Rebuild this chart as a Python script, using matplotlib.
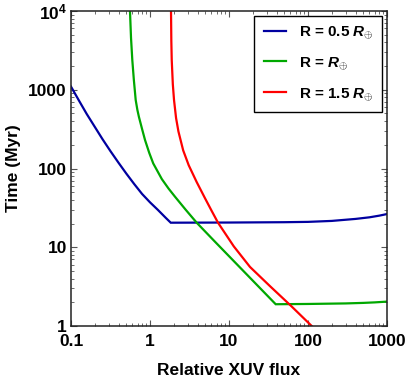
import numpy as np
import matplotlib
matplotlib.use('Agg')
import matplotlib.pyplot as plt
from matplotlib.ticker import FixedLocator, LogLocator, NullFormatter

plt.rcParams['font.family'] = ['Liberation Sans', 'DejaVu Sans']
plt.rcParams['font.weight'] = 'bold'
plt.rcParams['mathtext.fontset'] = 'custom'
plt.rcParams['mathtext.rm'] = 'Liberation Sans:bold'
plt.rcParams['mathtext.bf'] = 'Liberation Sans:bold'
plt.rcParams['mathtext.it'] = 'Liberation Sans:bold:italic'

# R = 0.5 Earth radii
blue_x = [0.1, 0.126, 0.158, 0.2, 0.251, 0.316, 0.398, 0.501, 0.631, 0.794, 1.0, 1.259, 1.585, 1.83,
          10, 50, 100, 200, 400, 600, 800, 1000]
blue_y = [1096, 730, 493, 338, 235, 166, 119, 86.3, 63.5, 47.5, 37.2, 29.8, 23.6, 20.5,
          20.6, 20.8, 21.0, 21.6, 22.9, 24.0, 25.2, 26.4]

# R = 1 Earth radius
green_x = [0.558, 0.575, 0.597, 0.624, 0.659, 0.692, 0.724, 0.80, 0.865, 0.977, 1.099, 1.413, 1.718,
           2.07, 2.818, 3.9, 6.65, 39, 100, 300, 500, 700, 1000]
green_y = [10000, 4571, 2388, 1349, 741, 556, 452, 308, 230, 158.5, 116, 73.3, 55.6,
           43.9, 30.1, 20.5, 11.75, 1.89, 1.905, 1.935, 1.965, 1.995, 2.04]

# R = 1.5 Earth radii
red_x = [1.845, 1.862, 1.884, 1.945, 2.014, 2.138, 2.291, 2.63, 3.09, 3.89, 4.97, 6.03, 7.26,
         11.5, 18.45, 33.1, 61.0, 111.4]
red_y = [10000, 4169, 2388, 1175, 741, 437, 295, 170, 110, 67.6, 41.9, 29.0, 20.5,
         10.26, 5.62, 3.2, 1.80, 1.0]

labels = [r'R = 0.5 $\mathit{R}_{\oplus}$', r'R = $\mathit{R}_{\oplus}$', r'R = 1.5 $\mathit{R}_{\oplus}$']
colors = ['#0000a0', '#00a800', '#ff0000']

xticks = [0.1, 1, 10, 100, 1000]
xticklabels = ['0.1', '1', '10', '100', '1000']
yticks = [1, 10, 100, 1000, 10000]
yticklabels = ['1', '10', '100', '1000', r'$\mathbf{10^4}$']

fig = plt.figure(figsize=(4.09, 3.79), dpi=100)
ax = fig.add_axes([71/409, 53/379, 316/409, 315/379])

for xs, ys, c, lab in zip([blue_x, green_x, red_x], [blue_y, green_y, red_y], colors, labels):
    ax.plot(xs, ys, color=c, lw=1.6, label=lab, solid_joinstyle='miter')

ax.set_xscale('log')
ax.set_yscale('log')
ax.set_xlim(0.1, 1000)
ax.set_ylim(1, 10000)

ax.xaxis.set_major_locator(FixedLocator(xticks))
ax.set_xticklabels(xticklabels)
ax.yaxis.set_major_locator(FixedLocator(yticks))
ax.set_yticklabels(yticklabels)
for a in (ax.xaxis, ax.yaxis):
    a.set_minor_locator(LogLocator(base=10, subs=np.arange(2, 10)))
    a.set_minor_formatter(NullFormatter())

ax.tick_params(which='both', direction='in', top=True, right=True, color='#555555',
               labelsize=12.5)
ax.tick_params(axis='x', which='both', pad=6)
ax.tick_params(axis='y', which='both', pad=3)
ax.tick_params(which='major', length=4, width=0.8)
ax.tick_params(which='minor', length=2, width=0.6)
for sp in ax.spines.values():
    sp.set_linewidth(1.1)
    sp.set_color('#222222')

ax.set_xlabel('Relative XUV flux', fontsize=12.5, fontweight='bold', labelpad=10)
ax.set_ylabel('Time (Myr)', fontsize=12.5, fontweight='bold', labelpad=5)

leg = ax.legend(loc='upper right', bbox_to_anchor=(1.0, 1.0), borderaxespad=0.3, fontsize=11,
                handlelength=1.5, labelspacing=0.95, borderpad=0.6,
                fancybox=False, framealpha=1, edgecolor='black')
leg.get_frame().set_linewidth(1.0)

fig.savefig('out.png', dpi=100)
